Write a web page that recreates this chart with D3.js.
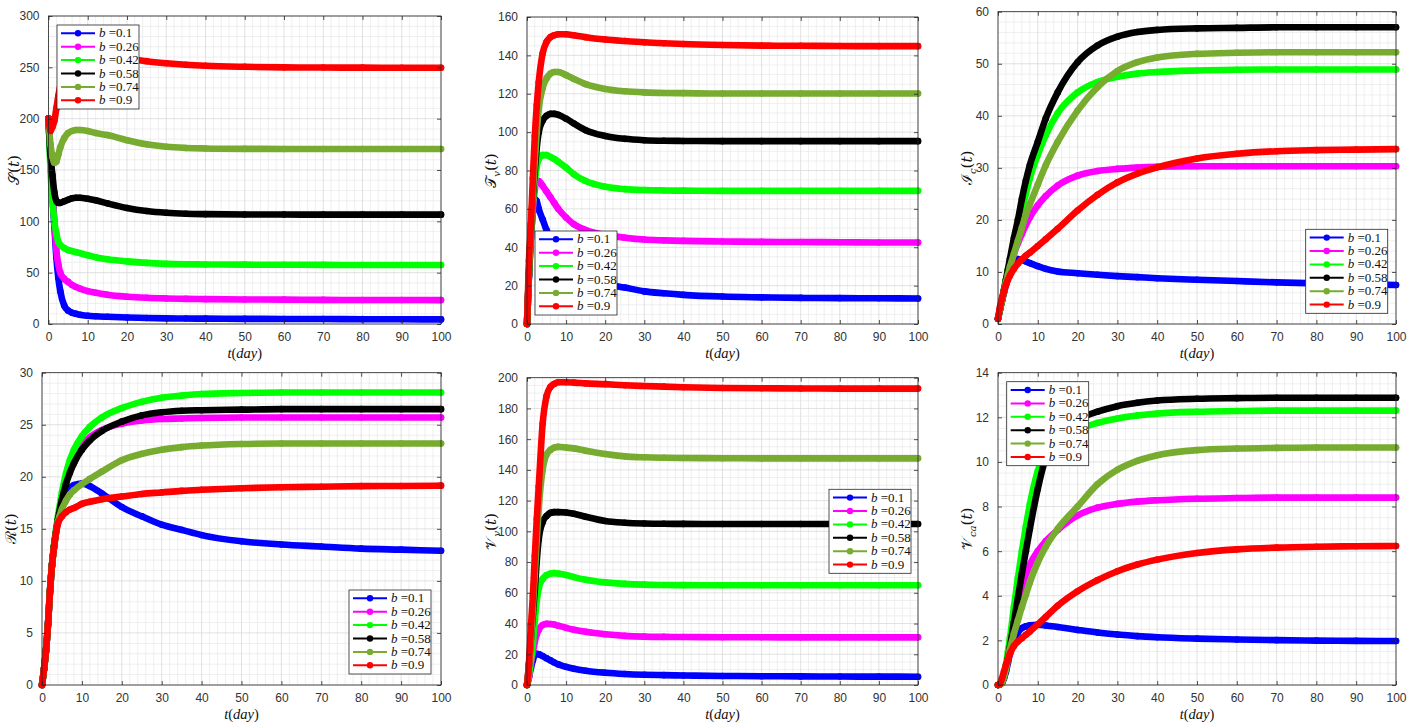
<!DOCTYPE html>
<html><head><meta charset="utf-8">
<script src="https://cdn.jsdelivr.net/npm/d3@7"></script>
<style>body{margin:0;background:#fff}</style>
</head><body>
<svg id="chart" width="1411" height="723"></svg>
<script>
// ---------------- data ----------------
const T = [0,0.5,1,1.5,2,2.5,3,4,5,6,7,8,10,12,15,20,25,30,35,40,50,60,70,80,90,100];
const bValues = ["0.1","0.26","0.42","0.58","0.74","0.9"];
const seriesColors = ["#0000ff","#ff00ff","#00ff00","#000000","#77ac30","#ff0000"];
const xTicks = [0,10,20,30,40,50,60,70,80,90,100];

// S(t)
const S_blue    = [200,160,125,95,65,45,32,18,13,11,10,9,8,7.5,7,6.3,5.9,5.5,5.3,5.2,5,4.9,4.8,4.7,4.6,4.5];
const S_magenta = [200,165,130,100,72,58,50,44,41,38,36,34.5,32,30.5,28.5,26.6,25.5,24.9,24.5,24.2,23.9,23.7,23.5,23.4,23.4,23.3];
const S_green   = [200,150,120,100,88,80,77,74,72,71,70,69,67,65,63,61,59.5,58.6,58.2,58,57.8,57.7,57.6,57.5,57.5,57.5];
const S_black   = [200,165,145,128,120,118,118,119.5,121,122.5,123,123,122,120.5,117.5,113,110,108.3,107.4,107,106.7,106.6,106.5,106.5,106.5,106.5];
const S_olive   = [200,175,163,157,158,165,172,181,186,188,189,189,188,186,184,179,175,172.6,171.5,171,170.6,170.5,170.4,170.4,170.4,170.4];
const S_red     = [200,188,192,198,210,222,232,245,255,260,263,264,265,264,262,259,256,254,252.5,251.5,250.5,250,249.8,249.7,249.6,249.6];
const S_ticks = [0,50,100,150,200,250,300];

// T_v(t)
const Tv_blue    = [0,25,45,58,65,64,60,54.5,49,45,41,37.5,32,28.5,24.8,21,19,17,16,15.2,14.3,13.9,13.6,13.5,13.4,13.3];
const Tv_magenta = [0,26,45,60,70,74,74.5,72,69,66,63,60,55.5,52,49,46.5,45,44,43.6,43.3,43,42.8,42.7,42.6,42.5,42.5];
const Tv_green   = [0,26,46,62,74,82,86,88,88,87,86,84.5,81.5,78,74.5,71.5,70.3,69.8,69.6,69.5,69.4,69.4,69.4,69.4,69.4,69.4];
const Tv_black   = [0,26,50,66,80,92,100,106,108.5,109.5,109.5,109,107,104.5,101,98,96.5,95.8,95.5,95.4,95.3,95.3,95.3,95.3,95.3,95.3];
const Tv_olive   = [0,27,50,68,85,100,112,123,128,130.5,131.3,131.3,129.7,127.7,125,122.5,121.3,120.7,120.4,120.3,120.1,120.1,120.1,120.1,120.1,120.1];
const Tv_red     = [0,33,52,76,98,114,126,141,147,149.5,150.5,151,151,150.5,149.5,148.3,147.5,146.8,146.3,145.9,145.4,145.1,145,144.9,144.8,144.8];
const Tv_ticks = [0,20,40,60,80,100,120,140,160];

// I_c(t)
const Ic_blue    = [1,2.8,4.5,6,7.5,8.8,10,11.8,12.5,12.3,12,11.7,11.1,10.6,10.1,9.75,9.45,9.2,9,8.8,8.5,8.25,8,7.8,7.65,7.5];
const Ic_magenta = [1,2.8,4.5,6.3,8,9.5,11,13.5,15.5,17.3,19,20.5,22.8,24.6,26.6,28.5,29.4,29.8,30.05,30.2,30.3,30.3,30.3,30.3,30.3,30.3];
const Ic_green   = [1,2.8,4.5,6.5,8.5,10.3,12,15.5,19,22,25,28,32.5,36.3,40.5,44.5,46.5,47.5,48.1,48.4,48.7,48.85,48.9,48.9,48.9,48.9];
const Ic_black   = [1,2.8,4.5,6.5,8.5,10.5,12.5,16.5,20,24,27.5,30.5,35,39.5,44.5,50.3,53.5,55.2,56.1,56.5,56.8,56.9,57,57,57,57];
const Ic_olive   = [1,2.8,4.5,6.3,8,9.5,11,13.5,16,18.5,21,23,26.8,30.5,35,41,45.5,48.6,50.3,51.2,51.9,52.1,52.2,52.2,52.2,52.2];
const Ic_red     = [1,3.3,5,6.3,7.5,8.5,9.3,10.6,11.6,12.4,13.1,13.7,15,16.3,18.3,21.8,24.8,27.2,28.9,30.1,31.8,32.7,33.2,33.4,33.5,33.6];
const Ic_ticks = [0,10,20,30,40,50,60];

// R(t)
const R_blue    = [0,1.5,3.3,5.8,9,11.5,13.2,15.8,17.3,18.3,18.9,19.2,19.35,19.1,18.4,17.1,16.2,15.4,14.9,14.4,13.8,13.5,13.3,13.1,13,12.9];
const R_magenta = [0,1.5,3.3,5.8,9,11.5,13.3,15.9,18,19.6,20.8,21.7,23,23.8,24.5,25.1,25.4,25.55,25.6,25.65,25.7,25.7,25.7,25.7,25.7,25.7];
const R_green   = [0,1.5,3.3,5.8,9,11.5,13.4,16.2,18.5,20.3,21.6,22.6,23.9,24.8,25.7,26.6,27.2,27.6,27.8,27.95,28.05,28.1,28.1,28.1,28.1,28.1];
const R_black   = [0,1.5,3.3,5.8,9,11.5,13.3,15.9,17.8,19.3,20.4,21.3,22.6,23.5,24.4,25.3,25.9,26.2,26.35,26.4,26.45,26.5,26.5,26.5,26.5,26.5];
const R_olive   = [0,1.5,3.3,5.8,9,11.5,13.2,15.7,16.9,17.7,18.3,18.7,19.3,19.8,20.5,21.6,22.2,22.6,22.85,23,23.15,23.2,23.2,23.2,23.2,23.2];
const R_red     = [0,1.5,3.3,5.8,9,11.5,13.2,15.5,16.2,16.6,16.85,17,17.4,17.6,17.85,18.1,18.35,18.5,18.65,18.75,18.9,19,19.05,19.1,19.12,19.15];
const R_ticks = [0,5,10,15,20,25,30];

// V_v(t)
const Vv_blue    = [0,5,11,16,19.5,20.3,20,18.8,17.4,16,14.6,13.4,11.8,10.6,9.3,8,7.2,6.7,6.4,6.2,5.9,5.7,5.6,5.5,5.45,5.4];
const Vv_magenta = [0,5,14,21,28,33,36,39,39.8,39.7,39.3,38.6,37.2,36,34.6,33,32,31.5,31.3,31.2,31.1,31.05,31,31,31,31];
const Vv_green   = [0,7,16,27,42,55,63,69,71.5,72.5,72.8,72.5,71.6,70.2,68.5,66.8,65.8,65.3,65.1,65,64.95,64.9,64.9,64.9,64.9,64.9];
const Vv_black   = [0,13,30,46,62,81,95,106,110,112,112.5,112.5,112.3,111.5,109.5,106.7,105.6,105.1,104.9,104.85,104.8,104.8,104.8,104.8,104.8,104.8];
const Vv_olive   = [0,12,30,50,72,95,115,140,150,153,154.5,155,154.5,154,152.5,150.3,148.8,148.2,147.9,147.7,147.6,147.5,147.5,147.5,147.5,147.5];
const Vv_red     = [0,14,38,58,84,108,129,170,188,194,196,197,197,196.8,196.3,195.8,195.1,194.6,194.2,193.8,193.3,193.1,193,192.9,192.9,192.9];
const Vv_ticks = [0,20,40,60,80,100,120,140,160,180,200];

// V_ca(t)
const Vca_blue    = [0,0.03,0.1,0.3,0.6,1,1.4,2,2.35,2.55,2.63,2.68,2.7,2.67,2.6,2.47,2.35,2.26,2.19,2.14,2.08,2.04,2.01,1.99,1.98,1.97];
const Vca_magenta = [0,0.03,0.15,0.4,0.8,1.3,1.8,2.9,3.7,4.4,4.95,5.4,6,6.45,6.95,7.6,7.95,8.12,8.22,8.28,8.35,8.38,8.4,8.4,8.4,8.4];
const Vca_green   = [0,0.03,0.15,0.45,0.9,1.5,2.1,3.5,4.8,6,7.1,8.1,9.6,10.5,11.1,11.45,11.75,11.95,12.08,12.17,12.25,12.28,12.3,12.3,12.3,12.3];
const Vca_black   = [0,0.03,0.1,0.35,0.7,1.2,1.7,2.8,3.9,5,6,7,8.8,10.2,11.3,11.9,12.25,12.5,12.65,12.75,12.83,12.86,12.88,12.88,12.88,12.88];
const Vca_olive   = [0,0.03,0.1,0.35,0.7,1.15,1.6,2.3,2.9,3.5,4.05,4.6,5.5,6.2,7,8,9,9.65,10.05,10.3,10.53,10.6,10.63,10.65,10.65,10.65];
const Vca_red     = [0,0.05,0.3,0.6,0.9,1.15,1.4,1.75,1.95,2.1,2.25,2.4,2.72,3.05,3.55,4.2,4.7,5.1,5.4,5.62,5.92,6.08,6.16,6.2,6.22,6.23];
const Vca_ticks = [0,2,4,6,8,10,12,14];

// ---------------- layout ----------------
const panels = [
  {series:[S_blue,S_magenta,S_green,S_black,S_olive,S_red], ticks:S_ticks, minor:10,
   name:"𝒮", sub:"", box:[48.5,16,441,324], legend:[57,25], ylabOff:30},
  {series:[Tv_blue,Tv_magenta,Tv_green,Tv_black,Tv_olive,Tv_red], ticks:Tv_ticks, minor:5,
   name:"𝒯", sub:"v", box:[527,17,918,324], legend:[535,231], ylabOff:31},
  {series:[Ic_blue,Ic_magenta,Ic_green,Ic_black,Ic_olive,Ic_red], ticks:Ic_ticks, minor:2,
   name:"ℐ", sub:"c", box:[998,11.7,1396,324], legend:[1305.7,229.3], ylabOff:26},
  {series:[R_blue,R_magenta,R_green,R_black,R_olive,R_red], ticks:R_ticks, minor:1,
   name:"ℛ", sub:"", box:[42,372.7,441,685], legend:[349,590], ylabOff:26},
  {series:[Vv_blue,Vv_magenta,Vv_green,Vv_black,Vv_olive,Vv_red], ticks:Vv_ticks, minor:5,
   name:"𝒱", sub:"v", box:[527,377.7,918,685], legend:[829,489.3], ylabOff:31},
  {series:[Vca_blue,Vca_magenta,Vca_green,Vca_black,Vca_olive,Vca_red], ticks:Vca_ticks, minor:0.5,
   name:"𝒱", sub:"ca", box:[998,372.7,1396,685], legend:[1006.7,381.7], ylabOff:26}
];

const svg = d3.select("#chart");
const axisColor = "#262626";

panels.forEach(p => {
  const [x0,y0,x1,y1] = p.box;
  const yMax = p.ticks[p.ticks.length-1];
  const x = d3.scaleLinear().domain([0,100]).range([x0,x1]);
  const y = d3.scaleLinear().domain([0,yMax]).range([y1,y0]);
  const g = svg.append("g");

  // minor grid
  const minorX = d3.range(0,100.001,2).filter(v=>v%10!==0);
  const minorY = d3.range(0,yMax+1e-9,p.minor).filter(v=>!p.ticks.some(t=>Math.abs(t-v)<1e-9));
  g.append("g").selectAll("line").data(minorX).join("line")
    .attr("x1",d=>x(d)).attr("x2",d=>x(d)).attr("y1",y0).attr("y2",y1)
    .attr("stroke","#ebebeb").attr("stroke-width",0.8);
  g.append("g").selectAll("line").data(minorY).join("line")
    .attr("y1",d=>y(d)).attr("y2",d=>y(d)).attr("x1",x0).attr("x2",x1)
    .attr("stroke","#ebebeb").attr("stroke-width",0.8);
  // major grid
  g.append("g").selectAll("line").data(xTicks).join("line")
    .attr("x1",d=>x(d)).attr("x2",d=>x(d)).attr("y1",y0).attr("y2",y1)
    .attr("stroke","#d9d9d9").attr("stroke-width",0.8);
  g.append("g").selectAll("line").data(p.ticks).join("line")
    .attr("y1",d=>y(d)).attr("y2",d=>y(d)).attr("x1",x0).attr("x2",x1)
    .attr("stroke","#d9d9d9").attr("stroke-width",0.8);

  // series
  const line = d3.line().x((d,i)=>x(T[i])).y(d=>y(d)).curve(d3.curveMonotoneX);
  p.series.forEach((vals,k) => {
    const sg = g.append("g");
    sg.append("path").attr("d",line(vals)).attr("fill","none")
      .attr("stroke",seriesColors[k]).attr("stroke-width",6.6)
      .attr("stroke-linejoin","round").attr("stroke-linecap","round");
    sg.selectAll("circle").data(vals).join("circle")
      .attr("cx",(d,i)=>x(T[i])).attr("cy",d=>y(d)).attr("r",3.3)
      .attr("fill",seriesColors[k]);
  });

  // box
  g.append("rect").attr("x",x0).attr("y",y0).attr("width",x1-x0).attr("height",y1-y0)
    .attr("fill","none").attr("stroke",axisColor).attr("stroke-width",0.8);

  // axes (ticks inward on all sides)
  const tl = 4;
  const bottom = g.append("g").attr("transform",`translate(0,${y1})`)
    .call(d3.axisBottom(x).tickValues(xTicks).tickSizeInner(-tl).tickSizeOuter(0).tickPadding(8.5));
  const top = g.append("g").attr("transform",`translate(0,${y0})`)
    .call(d3.axisTop(x).tickValues(xTicks).tickSizeInner(-tl).tickSizeOuter(0).tickFormat(""));
  const left = g.append("g").attr("transform",`translate(${x0},0)`)
    .call(d3.axisLeft(y).tickValues(p.ticks).tickSizeInner(-tl).tickSizeOuter(0).tickPadding(9));
  const right = g.append("g").attr("transform",`translate(${x1},0)`)
    .call(d3.axisRight(y).tickValues(p.ticks).tickSizeInner(-tl).tickSizeOuter(0).tickFormat(""));
  [bottom,top,left,right].forEach(a=>{
    a.select(".domain").remove();
    a.selectAll(".tick line").attr("stroke",axisColor).attr("stroke-width",0.8);
    a.selectAll(".tick text").attr("fill","#333")
      .style("font-family","'Liberation Sans',Arial,sans-serif").style("font-size","12px");
  });

  // x label
  const xl = g.append("text").attr("x",(x0+x1)/2).attr("y",y1+33.5)
    .attr("text-anchor","middle").style("font-family","'Liberation Serif','DejaVu Serif',serif")
    .style("font-size","14.5px").attr("fill","#111");
  xl.append("tspan").style("font-style","italic").text("t");
  xl.append("tspan").text("(");
  xl.append("tspan").style("font-style","italic").text("day");
  xl.append("tspan").text(")");

  // y label
  const cy = (y0+y1)/2;
  const yl = g.append("text").attr("transform",`translate(${x0-p.ylabOff},${cy}) rotate(-90)`)
    .attr("text-anchor","middle").style("font-family","'DejaVu Serif','Liberation Serif',serif")
    .style("font-size","15px").attr("fill","#111");
  yl.append("tspan").text(p.name);
  if (p.sub) yl.append("tspan").attr("dy",4).style("font-size","10px").style("font-style","italic").text(p.sub);
  yl.append("tspan").attr("dy",p.sub?-4:0).text("(");
  yl.append("tspan").style("font-style","italic").text("t");
  yl.append("tspan").text(")");

  // legend
  const [lx,ly] = p.legend;
  const lg = svg.append("g").attr("transform",`translate(${lx},${ly})`);
  lg.append("rect").attr("width",82).attr("height",84).attr("fill","#fff")
    .attr("stroke",axisColor).attr("stroke-width",0.8);
  bValues.forEach((b,k)=>{
    const ry = 8.3 + 13.4*k;
    lg.append("line").attr("x1",4).attr("x2",38).attr("y1",ry).attr("y2",ry)
      .attr("stroke",seriesColors[k]).attr("stroke-width",2);
    lg.append("circle").attr("cx",21).attr("cy",ry).attr("r",3.2).attr("fill",seriesColors[k]);
    const t = lg.append("text").attr("x",42).attr("y",ry+4)
      .style("font-family","'Liberation Serif','DejaVu Serif',serif").style("font-size","13px").attr("fill","#111");
    t.append("tspan").style("font-style","italic").text("b");
    t.append("tspan").text(" =" + b);
  });
});
</script>
</body></html>
